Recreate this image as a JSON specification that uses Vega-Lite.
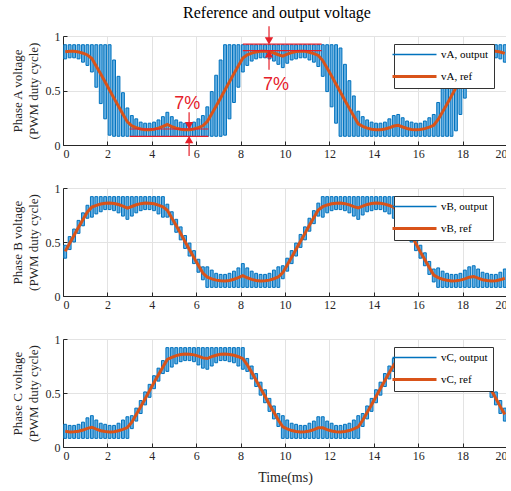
{
"$schema": "https://vega.github.io/schema/vega-lite/v6.json",
"padding": {"left": 11, "top": 4, "right": -5, "bottom": 2},
"bounds": "flush",
"spacing": 43,
"title": {"text": "Reference and output voltage", "fontSize": 16, "font": "Liberation Serif", "fontWeight": "normal", "color": "#000000", "anchor": "middle", "frame": "group", "dx": -8, "offset": 5},
"config": {
  "font": "Liberation Serif",
  "view": {"stroke": null},
  "axis": {"labelFont": "Liberation Serif", "labelFontSize": 12, "labelColor": "#262626", "titleFont": "Liberation Serif", "titleFontWeight": "normal", "titleColor": "#262626", "domainColor": "#262626", "tickColor": "#262626", "gridColor": "#e3e3e3", "tickSize": -4, "labelPadding": 7},
  "axisX": {"titleFontSize": 14, "titlePadding": 9},
  "axisY": {"titleFontSize": 13, "titlePadding": 5, "titleLineHeight": 16},
  "legend": {"orient": "none", "legendX": 331, "legendY": 8, "padding": 5, "strokeColor": "#333333", "fillColor": "#ffffff", "symbolType": "M-2.2,0L2.2,0", "symbolSize": 400, "symbolStrokeWidth": 3, "symbolOffset": 10, "labelFont": "Liberation Serif", "labelFontSize": 11, "labelColor": "#000000", "rowPadding": 10, "labelOffset": 21, "title": null}
},
"datasets": {
"pwm": [
{"p":"A","t":0,"m":0.1,"e":0.2,"r":0.855,"lo":0.79,"hi":0.92},
{"p":"A","t":0.2,"m":0.3,"e":0.4,"r":0.860,"lo":0.80,"hi":0.92},
{"p":"A","t":0.4,"m":0.5,"e":0.6,"r":0.859,"lo":0.80,"hi":0.92},
{"p":"A","t":0.6,"m":0.7,"e":0.8,"r":0.854,"lo":0.79,"hi":0.92},
{"p":"A","t":0.8,"m":0.9,"e":1.0,"r":0.842,"lo":0.76,"hi":0.92},
{"p":"A","t":1.0,"m":1.1,"e":1.2,"r":0.826,"lo":0.73,"hi":0.92},
{"p":"A","t":1.2,"m":1.3,"e":1.4,"r":0.793,"lo":0.67,"hi":0.92},
{"p":"A","t":1.4,"m":1.5,"e":1.6,"r":0.723,"lo":0.53,"hi":0.92},
{"p":"A","t":1.6,"m":1.7,"e":1.8,"r":0.652,"lo":0.38,"hi":0.92},
{"p":"A","t":1.8,"m":1.9,"e":2.0,"r":0.578,"lo":0.24,"hi":0.92},
{"p":"A","t":2.0,"m":2.1,"e":2.2,"r":0.503,"lo":0.09,"hi":0.92},
{"p":"A","t":2.2,"m":2.3,"e":2.4,"r":0.428,"lo":0.08,"hi":0.78},
{"p":"A","t":2.4,"m":2.5,"e":2.6,"r":0.355,"lo":0.08,"hi":0.63},
{"p":"A","t":2.6,"m":2.7,"e":2.8,"r":0.282,"lo":0.08,"hi":0.48},
{"p":"A","t":2.8,"m":2.9,"e":3.0,"r":0.212,"lo":0.08,"hi":0.34},
{"p":"A","t":3.0,"m":3.1,"e":3.2,"r":0.175,"lo":0.08,"hi":0.27},
{"p":"A","t":3.2,"m":3.3,"e":3.4,"r":0.159,"lo":0.08,"hi":0.24},
{"p":"A","t":3.4,"m":3.5,"e":3.6,"r":0.147,"lo":0.08,"hi":0.21},
{"p":"A","t":3.6,"m":3.7,"e":3.8,"r":0.141,"lo":0.08,"hi":0.20},
{"p":"A","t":3.8,"m":3.9,"e":4.0,"r":0.140,"lo":0.08,"hi":0.20},
{"p":"A","t":4.0,"m":4.1,"e":4.2,"r":0.144,"lo":0.08,"hi":0.21},
{"p":"A","t":4.2,"m":4.3,"e":4.4,"r":0.155,"lo":0.08,"hi":0.23},
{"p":"A","t":4.4,"m":4.5,"e":4.6,"r":0.170,"lo":0.08,"hi":0.26},
{"p":"A","t":4.6,"m":4.7,"e":4.8,"r":0.188,"lo":0.08,"hi":0.30},
{"p":"A","t":4.8,"m":4.9,"e":5.0,"r":0.169,"lo":0.08,"hi":0.26},
{"p":"A","t":5.0,"m":5.1,"e":5.2,"r":0.154,"lo":0.08,"hi":0.23},
{"p":"A","t":5.2,"m":5.3,"e":5.4,"r":0.144,"lo":0.08,"hi":0.21},
{"p":"A","t":5.4,"m":5.5,"e":5.6,"r":0.140,"lo":0.08,"hi":0.20},
{"p":"A","t":5.6,"m":5.7,"e":5.8,"r":0.141,"lo":0.08,"hi":0.20},
{"p":"A","t":5.8,"m":5.9,"e":6.0,"r":0.147,"lo":0.08,"hi":0.21},
{"p":"A","t":6.0,"m":6.1,"e":6.2,"r":0.160,"lo":0.08,"hi":0.24},
{"p":"A","t":6.2,"m":6.3,"e":6.4,"r":0.176,"lo":0.08,"hi":0.27},
{"p":"A","t":6.4,"m":6.5,"e":6.6,"r":0.216,"lo":0.08,"hi":0.35},
{"p":"A","t":6.6,"m":6.7,"e":6.8,"r":0.286,"lo":0.08,"hi":0.49},
{"p":"A","t":6.8,"m":6.9,"e":7.0,"r":0.358,"lo":0.08,"hi":0.64},
{"p":"A","t":7.0,"m":7.1,"e":7.2,"r":0.432,"lo":0.08,"hi":0.78},
{"p":"A","t":7.2,"m":7.3,"e":7.4,"r":0.506,"lo":0.09,"hi":0.92},
{"p":"A","t":7.4,"m":7.5,"e":7.6,"r":0.580,"lo":0.24,"hi":0.92},
{"p":"A","t":7.6,"m":7.7,"e":7.8,"r":0.655,"lo":0.39,"hi":0.92},
{"p":"A","t":7.8,"m":7.9,"e":8.0,"r":0.727,"lo":0.53,"hi":0.92},
{"p":"A","t":8.0,"m":8.1,"e":8.2,"r":0.797,"lo":0.67,"hi":0.92},
{"p":"A","t":8.2,"m":8.3,"e":8.4,"r":0.827,"lo":0.73,"hi":0.92},
{"p":"A","t":8.4,"m":8.5,"e":8.6,"r":0.843,"lo":0.77,"hi":0.92},
{"p":"A","t":8.6,"m":8.7,"e":8.8,"r":0.854,"lo":0.79,"hi":0.92},
{"p":"A","t":8.8,"m":8.9,"e":9.0,"r":0.859,"lo":0.80,"hi":0.92},
{"p":"A","t":9.0,"m":9.1,"e":9.2,"r":0.860,"lo":0.80,"hi":0.92},
{"p":"A","t":9.2,"m":9.3,"e":9.4,"r":0.855,"lo":0.79,"hi":0.92},
{"p":"A","t":9.4,"m":9.5,"e":9.6,"r":0.844,"lo":0.77,"hi":0.92},
{"p":"A","t":9.6,"m":9.7,"e":9.8,"r":0.828,"lo":0.74,"hi":0.92},
{"p":"A","t":9.8,"m":9.9,"e":10.0,"r":0.815,"lo":0.71,"hi":0.92},
{"p":"A","t":10.0,"m":10.1,"e":10.2,"r":0.833,"lo":0.75,"hi":0.92},
{"p":"A","t":10.2,"m":10.3,"e":10.4,"r":0.848,"lo":0.78,"hi":0.92},
{"p":"A","t":10.4,"m":10.5,"e":10.6,"r":0.857,"lo":0.79,"hi":0.92},
{"p":"A","t":10.6,"m":10.7,"e":10.8,"r":0.860,"lo":0.80,"hi":0.92},
{"p":"A","t":10.8,"m":10.9,"e":11.0,"r":0.859,"lo":0.80,"hi":0.92},
{"p":"A","t":11.0,"m":11.1,"e":11.2,"r":0.851,"lo":0.78,"hi":0.92},
{"p":"A","t":11.2,"m":11.3,"e":11.4,"r":0.838,"lo":0.76,"hi":0.92},
{"p":"A","t":11.4,"m":11.5,"e":11.6,"r":0.822,"lo":0.72,"hi":0.92},
{"p":"A","t":11.6,"m":11.7,"e":11.8,"r":0.775,"lo":0.63,"hi":0.92},
{"p":"A","t":11.8,"m":11.9,"e":12.0,"r":0.705,"lo":0.49,"hi":0.92},
{"p":"A","t":12.0,"m":12.1,"e":12.2,"r":0.633,"lo":0.35,"hi":0.92},
{"p":"A","t":12.2,"m":12.3,"e":12.4,"r":0.558,"lo":0.20,"hi":0.92},
{"p":"A","t":12.4,"m":12.5,"e":12.6,"r":0.484,"lo":0.08,"hi":0.89},
{"p":"A","t":12.6,"m":12.7,"e":12.8,"r":0.408,"lo":0.08,"hi":0.74},
{"p":"A","t":12.8,"m":12.9,"e":13.0,"r":0.336,"lo":0.08,"hi":0.59},
{"p":"A","t":13.0,"m":13.1,"e":13.2,"r":0.264,"lo":0.08,"hi":0.45},
{"p":"A","t":13.2,"m":13.3,"e":13.4,"r":0.194,"lo":0.08,"hi":0.31},
{"p":"A","t":13.4,"m":13.5,"e":13.6,"r":0.171,"lo":0.08,"hi":0.26},
{"p":"A","t":13.6,"m":13.7,"e":13.8,"r":0.155,"lo":0.08,"hi":0.23},
{"p":"A","t":13.8,"m":13.9,"e":14.0,"r":0.145,"lo":0.08,"hi":0.21},
{"p":"A","t":14.0,"m":14.1,"e":14.2,"r":0.140,"lo":0.08,"hi":0.20},
{"p":"A","t":14.2,"m":14.3,"e":14.4,"r":0.141,"lo":0.08,"hi":0.20},
{"p":"A","t":14.4,"m":14.5,"e":14.6,"r":0.147,"lo":0.08,"hi":0.21},
{"p":"A","t":14.6,"m":14.7,"e":14.8,"r":0.158,"lo":0.08,"hi":0.24},
{"p":"A","t":14.8,"m":14.9,"e":15.0,"r":0.174,"lo":0.08,"hi":0.27},
{"p":"A","t":15.0,"m":15.1,"e":15.2,"r":0.181,"lo":0.08,"hi":0.28},
{"p":"A","t":15.2,"m":15.3,"e":15.4,"r":0.165,"lo":0.08,"hi":0.25},
{"p":"A","t":15.4,"m":15.5,"e":15.6,"r":0.151,"lo":0.08,"hi":0.22},
{"p":"A","t":15.6,"m":15.7,"e":15.8,"r":0.143,"lo":0.08,"hi":0.21},
{"p":"A","t":15.8,"m":15.9,"e":16.0,"r":0.140,"lo":0.08,"hi":0.20},
{"p":"A","t":16.0,"m":16.1,"e":16.2,"r":0.142,"lo":0.08,"hi":0.20},
{"p":"A","t":16.2,"m":16.3,"e":16.4,"r":0.150,"lo":0.08,"hi":0.22},
{"p":"A","t":16.4,"m":16.5,"e":16.6,"r":0.164,"lo":0.08,"hi":0.25},
{"p":"A","t":16.6,"m":16.7,"e":16.8,"r":0.181,"lo":0.08,"hi":0.28},
{"p":"A","t":16.8,"m":16.9,"e":17.0,"r":0.234,"lo":0.08,"hi":0.39},
{"p":"A","t":17.0,"m":17.1,"e":17.2,"r":0.304,"lo":0.08,"hi":0.53},
{"p":"A","t":17.2,"m":17.3,"e":17.4,"r":0.376,"lo":0.08,"hi":0.67},
{"p":"A","t":17.4,"m":17.5,"e":17.6,"r":0.451,"lo":0.08,"hi":0.82},
{"p":"A","t":17.6,"m":17.7,"e":17.8,"r":0.526,"lo":0.13,"hi":0.92},
{"p":"A","t":17.8,"m":17.9,"e":18.0,"r":0.602,"lo":0.28,"hi":0.92},
{"p":"A","t":18.0,"m":18.1,"e":18.2,"r":0.674,"lo":0.43,"hi":0.92},
{"p":"A","t":18.2,"m":18.3,"e":18.4,"r":0.745,"lo":0.57,"hi":0.92},
{"p":"A","t":18.4,"m":18.5,"e":18.6,"r":0.812,"lo":0.70,"hi":0.92},
{"p":"A","t":18.6,"m":18.7,"e":18.8,"r":0.831,"lo":0.74,"hi":0.92},
{"p":"A","t":18.8,"m":18.9,"e":19.0,"r":0.847,"lo":0.77,"hi":0.92},
{"p":"A","t":19.0,"m":19.1,"e":19.2,"r":0.856,"lo":0.79,"hi":0.92},
{"p":"A","t":19.2,"m":19.3,"e":19.4,"r":0.860,"lo":0.80,"hi":0.92},
{"p":"A","t":19.4,"m":19.5,"e":19.6,"r":0.859,"lo":0.80,"hi":0.92},
{"p":"A","t":19.6,"m":19.7,"e":19.8,"r":0.853,"lo":0.79,"hi":0.92},
{"p":"A","t":19.8,"m":19.9,"e":20.0,"r":0.840,"lo":0.76,"hi":0.92},
{"p":"B","t":0,"m":0.1,"e":0.2,"r":0.413,"lo":0.35,"hi":0.47},
{"p":"B","t":0.2,"m":0.3,"e":0.4,"r":0.488,"lo":0.43,"hi":0.55},
{"p":"B","t":0.4,"m":0.5,"e":0.6,"r":0.562,"lo":0.50,"hi":0.62},
{"p":"B","t":0.6,"m":0.7,"e":0.8,"r":0.637,"lo":0.58,"hi":0.70},
{"p":"B","t":0.8,"m":0.9,"e":1.0,"r":0.709,"lo":0.65,"hi":0.77},
{"p":"B","t":1.0,"m":1.1,"e":1.2,"r":0.779,"lo":0.72,"hi":0.84},
{"p":"B","t":1.2,"m":1.3,"e":1.4,"r":0.823,"lo":0.73,"hi":0.92},
{"p":"B","t":1.4,"m":1.5,"e":1.6,"r":0.839,"lo":0.76,"hi":0.92},
{"p":"B","t":1.6,"m":1.7,"e":1.8,"r":0.852,"lo":0.78,"hi":0.92},
{"p":"B","t":1.8,"m":1.9,"e":2.0,"r":0.859,"lo":0.80,"hi":0.92},
{"p":"B","t":2.0,"m":2.1,"e":2.2,"r":0.860,"lo":0.80,"hi":0.92},
{"p":"B","t":2.2,"m":2.3,"e":2.4,"r":0.857,"lo":0.79,"hi":0.92},
{"p":"B","t":2.4,"m":2.5,"e":2.6,"r":0.847,"lo":0.77,"hi":0.92},
{"p":"B","t":2.6,"m":2.7,"e":2.8,"r":0.832,"lo":0.74,"hi":0.92},
{"p":"B","t":2.8,"m":2.9,"e":3.0,"r":0.814,"lo":0.71,"hi":0.92},
{"p":"B","t":3.0,"m":3.1,"e":3.2,"r":0.829,"lo":0.74,"hi":0.92},
{"p":"B","t":3.2,"m":3.3,"e":3.4,"r":0.845,"lo":0.77,"hi":0.92},
{"p":"B","t":3.4,"m":3.5,"e":3.6,"r":0.855,"lo":0.79,"hi":0.92},
{"p":"B","t":3.6,"m":3.7,"e":3.8,"r":0.860,"lo":0.80,"hi":0.92},
{"p":"B","t":3.8,"m":3.9,"e":4.0,"r":0.859,"lo":0.80,"hi":0.92},
{"p":"B","t":4.0,"m":4.1,"e":4.2,"r":0.854,"lo":0.79,"hi":0.92},
{"p":"B","t":4.2,"m":4.3,"e":4.4,"r":0.842,"lo":0.76,"hi":0.92},
{"p":"B","t":4.4,"m":4.5,"e":4.6,"r":0.826,"lo":0.73,"hi":0.92},
{"p":"B","t":4.6,"m":4.7,"e":4.8,"r":0.793,"lo":0.73,"hi":0.85},
{"p":"B","t":4.8,"m":4.9,"e":5.0,"r":0.723,"lo":0.66,"hi":0.78},
{"p":"B","t":5.0,"m":5.1,"e":5.2,"r":0.652,"lo":0.59,"hi":0.71},
{"p":"B","t":5.2,"m":5.3,"e":5.4,"r":0.578,"lo":0.52,"hi":0.64},
{"p":"B","t":5.4,"m":5.5,"e":5.6,"r":0.503,"lo":0.44,"hi":0.56},
{"p":"B","t":5.6,"m":5.7,"e":5.8,"r":0.428,"lo":0.37,"hi":0.49},
{"p":"B","t":5.8,"m":5.9,"e":6.0,"r":0.355,"lo":0.30,"hi":0.42},
{"p":"B","t":6.0,"m":6.1,"e":6.2,"r":0.282,"lo":0.22,"hi":0.34},
{"p":"B","t":6.2,"m":6.3,"e":6.4,"r":0.212,"lo":0.15,"hi":0.27},
{"p":"B","t":6.4,"m":6.5,"e":6.6,"r":0.175,"lo":0.08,"hi":0.27},
{"p":"B","t":6.6,"m":6.7,"e":6.8,"r":0.159,"lo":0.08,"hi":0.24},
{"p":"B","t":6.8,"m":6.9,"e":7.0,"r":0.147,"lo":0.08,"hi":0.21},
{"p":"B","t":7.0,"m":7.1,"e":7.2,"r":0.141,"lo":0.08,"hi":0.20},
{"p":"B","t":7.2,"m":7.3,"e":7.4,"r":0.140,"lo":0.08,"hi":0.20},
{"p":"B","t":7.4,"m":7.5,"e":7.6,"r":0.144,"lo":0.08,"hi":0.21},
{"p":"B","t":7.6,"m":7.7,"e":7.8,"r":0.155,"lo":0.08,"hi":0.23},
{"p":"B","t":7.8,"m":7.9,"e":8.0,"r":0.170,"lo":0.08,"hi":0.26},
{"p":"B","t":8.0,"m":8.1,"e":8.2,"r":0.188,"lo":0.08,"hi":0.30},
{"p":"B","t":8.2,"m":8.3,"e":8.4,"r":0.169,"lo":0.08,"hi":0.26},
{"p":"B","t":8.4,"m":8.5,"e":8.6,"r":0.154,"lo":0.08,"hi":0.23},
{"p":"B","t":8.6,"m":8.7,"e":8.8,"r":0.144,"lo":0.08,"hi":0.21},
{"p":"B","t":8.8,"m":8.9,"e":9.0,"r":0.140,"lo":0.08,"hi":0.20},
{"p":"B","t":9.0,"m":9.1,"e":9.2,"r":0.141,"lo":0.08,"hi":0.20},
{"p":"B","t":9.2,"m":9.3,"e":9.4,"r":0.147,"lo":0.08,"hi":0.21},
{"p":"B","t":9.4,"m":9.5,"e":9.6,"r":0.160,"lo":0.08,"hi":0.24},
{"p":"B","t":9.6,"m":9.7,"e":9.8,"r":0.176,"lo":0.08,"hi":0.27},
{"p":"B","t":9.8,"m":9.9,"e":10.0,"r":0.216,"lo":0.16,"hi":0.28},
{"p":"B","t":10.0,"m":10.1,"e":10.2,"r":0.286,"lo":0.23,"hi":0.35},
{"p":"B","t":10.2,"m":10.3,"e":10.4,"r":0.358,"lo":0.30,"hi":0.42},
{"p":"B","t":10.4,"m":10.5,"e":10.6,"r":0.432,"lo":0.37,"hi":0.49},
{"p":"B","t":10.6,"m":10.7,"e":10.8,"r":0.506,"lo":0.45,"hi":0.57},
{"p":"B","t":10.8,"m":10.9,"e":11.0,"r":0.580,"lo":0.52,"hi":0.64},
{"p":"B","t":11.0,"m":11.1,"e":11.2,"r":0.655,"lo":0.60,"hi":0.72},
{"p":"B","t":11.2,"m":11.3,"e":11.4,"r":0.727,"lo":0.67,"hi":0.79},
{"p":"B","t":11.4,"m":11.5,"e":11.6,"r":0.797,"lo":0.74,"hi":0.86},
{"p":"B","t":11.6,"m":11.7,"e":11.8,"r":0.827,"lo":0.73,"hi":0.92},
{"p":"B","t":11.8,"m":11.9,"e":12.0,"r":0.843,"lo":0.77,"hi":0.92},
{"p":"B","t":12.0,"m":12.1,"e":12.2,"r":0.854,"lo":0.79,"hi":0.92},
{"p":"B","t":12.2,"m":12.3,"e":12.4,"r":0.859,"lo":0.80,"hi":0.92},
{"p":"B","t":12.4,"m":12.5,"e":12.6,"r":0.860,"lo":0.80,"hi":0.92},
{"p":"B","t":12.6,"m":12.7,"e":12.8,"r":0.855,"lo":0.79,"hi":0.92},
{"p":"B","t":12.8,"m":12.9,"e":13.0,"r":0.844,"lo":0.77,"hi":0.92},
{"p":"B","t":13.0,"m":13.1,"e":13.2,"r":0.828,"lo":0.74,"hi":0.92},
{"p":"B","t":13.2,"m":13.3,"e":13.4,"r":0.815,"lo":0.71,"hi":0.92},
{"p":"B","t":13.4,"m":13.5,"e":13.6,"r":0.833,"lo":0.75,"hi":0.92},
{"p":"B","t":13.6,"m":13.7,"e":13.8,"r":0.848,"lo":0.78,"hi":0.92},
{"p":"B","t":13.8,"m":13.9,"e":14.0,"r":0.857,"lo":0.79,"hi":0.92},
{"p":"B","t":14.0,"m":14.1,"e":14.2,"r":0.860,"lo":0.80,"hi":0.92},
{"p":"B","t":14.2,"m":14.3,"e":14.4,"r":0.859,"lo":0.80,"hi":0.92},
{"p":"B","t":14.4,"m":14.5,"e":14.6,"r":0.851,"lo":0.78,"hi":0.92},
{"p":"B","t":14.6,"m":14.7,"e":14.8,"r":0.838,"lo":0.76,"hi":0.92},
{"p":"B","t":14.8,"m":14.9,"e":15.0,"r":0.822,"lo":0.72,"hi":0.92},
{"p":"B","t":15.0,"m":15.1,"e":15.2,"r":0.775,"lo":0.72,"hi":0.84},
{"p":"B","t":15.2,"m":15.3,"e":15.4,"r":0.705,"lo":0.65,"hi":0.77},
{"p":"B","t":15.4,"m":15.5,"e":15.6,"r":0.633,"lo":0.57,"hi":0.69},
{"p":"B","t":15.6,"m":15.7,"e":15.8,"r":0.558,"lo":0.50,"hi":0.62},
{"p":"B","t":15.8,"m":15.9,"e":16.0,"r":0.484,"lo":0.42,"hi":0.54},
{"p":"B","t":16.0,"m":16.1,"e":16.2,"r":0.408,"lo":0.35,"hi":0.47},
{"p":"B","t":16.2,"m":16.3,"e":16.4,"r":0.336,"lo":0.28,"hi":0.40},
{"p":"B","t":16.4,"m":16.5,"e":16.6,"r":0.264,"lo":0.20,"hi":0.32},
{"p":"B","t":16.6,"m":16.7,"e":16.8,"r":0.194,"lo":0.13,"hi":0.25},
{"p":"B","t":16.8,"m":16.9,"e":17.0,"r":0.171,"lo":0.08,"hi":0.26},
{"p":"B","t":17.0,"m":17.1,"e":17.2,"r":0.155,"lo":0.08,"hi":0.23},
{"p":"B","t":17.2,"m":17.3,"e":17.4,"r":0.145,"lo":0.08,"hi":0.21},
{"p":"B","t":17.4,"m":17.5,"e":17.6,"r":0.140,"lo":0.08,"hi":0.20},
{"p":"B","t":17.6,"m":17.7,"e":17.8,"r":0.141,"lo":0.08,"hi":0.20},
{"p":"B","t":17.8,"m":17.9,"e":18.0,"r":0.147,"lo":0.08,"hi":0.21},
{"p":"B","t":18.0,"m":18.1,"e":18.2,"r":0.158,"lo":0.08,"hi":0.24},
{"p":"B","t":18.2,"m":18.3,"e":18.4,"r":0.174,"lo":0.08,"hi":0.27},
{"p":"B","t":18.4,"m":18.5,"e":18.6,"r":0.181,"lo":0.08,"hi":0.28},
{"p":"B","t":18.6,"m":18.7,"e":18.8,"r":0.165,"lo":0.08,"hi":0.25},
{"p":"B","t":18.8,"m":18.9,"e":19.0,"r":0.151,"lo":0.08,"hi":0.22},
{"p":"B","t":19.0,"m":19.1,"e":19.2,"r":0.143,"lo":0.08,"hi":0.21},
{"p":"B","t":19.2,"m":19.3,"e":19.4,"r":0.140,"lo":0.08,"hi":0.20},
{"p":"B","t":19.4,"m":19.5,"e":19.6,"r":0.142,"lo":0.08,"hi":0.20},
{"p":"B","t":19.6,"m":19.7,"e":19.8,"r":0.150,"lo":0.08,"hi":0.22},
{"p":"B","t":19.8,"m":19.9,"e":20.0,"r":0.164,"lo":0.08,"hi":0.25},
{"p":"C","t":0,"m":0.1,"e":0.2,"r":0.145,"lo":0.08,"hi":0.21},
{"p":"C","t":0.2,"m":0.3,"e":0.4,"r":0.140,"lo":0.08,"hi":0.20},
{"p":"C","t":0.4,"m":0.5,"e":0.6,"r":0.141,"lo":0.08,"hi":0.20},
{"p":"C","t":0.6,"m":0.7,"e":0.8,"r":0.146,"lo":0.08,"hi":0.21},
{"p":"C","t":0.8,"m":0.9,"e":1.0,"r":0.157,"lo":0.08,"hi":0.23},
{"p":"C","t":1.0,"m":1.1,"e":1.2,"r":0.173,"lo":0.08,"hi":0.27},
{"p":"C","t":1.2,"m":1.3,"e":1.4,"r":0.183,"lo":0.08,"hi":0.29},
{"p":"C","t":1.4,"m":1.5,"e":1.6,"r":0.166,"lo":0.08,"hi":0.25},
{"p":"C","t":1.6,"m":1.7,"e":1.8,"r":0.151,"lo":0.08,"hi":0.22},
{"p":"C","t":1.8,"m":1.9,"e":2.0,"r":0.143,"lo":0.08,"hi":0.21},
{"p":"C","t":2.0,"m":2.1,"e":2.2,"r":0.140,"lo":0.08,"hi":0.20},
{"p":"C","t":2.2,"m":2.3,"e":2.4,"r":0.142,"lo":0.08,"hi":0.20},
{"p":"C","t":2.4,"m":2.5,"e":2.6,"r":0.150,"lo":0.08,"hi":0.22},
{"p":"C","t":2.6,"m":2.7,"e":2.8,"r":0.163,"lo":0.08,"hi":0.25},
{"p":"C","t":2.8,"m":2.9,"e":3.0,"r":0.180,"lo":0.08,"hi":0.28},
{"p":"C","t":3.0,"m":3.1,"e":3.2,"r":0.230,"lo":0.17,"hi":0.29},
{"p":"C","t":3.2,"m":3.3,"e":3.4,"r":0.300,"lo":0.24,"hi":0.36},
{"p":"C","t":3.4,"m":3.5,"e":3.6,"r":0.372,"lo":0.31,"hi":0.43},
{"p":"C","t":3.6,"m":3.7,"e":3.8,"r":0.447,"lo":0.39,"hi":0.51},
{"p":"C","t":3.8,"m":3.9,"e":4.0,"r":0.522,"lo":0.46,"hi":0.58},
{"p":"C","t":4.0,"m":4.1,"e":4.2,"r":0.597,"lo":0.54,"hi":0.66},
{"p":"C","t":4.2,"m":4.3,"e":4.4,"r":0.670,"lo":0.61,"hi":0.73},
{"p":"C","t":4.4,"m":4.5,"e":4.6,"r":0.741,"lo":0.68,"hi":0.80},
{"p":"C","t":4.6,"m":4.7,"e":4.8,"r":0.811,"lo":0.70,"hi":0.92},
{"p":"C","t":4.8,"m":4.9,"e":5.0,"r":0.830,"lo":0.74,"hi":0.92},
{"p":"C","t":5.0,"m":5.1,"e":5.2,"r":0.846,"lo":0.77,"hi":0.92},
{"p":"C","t":5.2,"m":5.3,"e":5.4,"r":0.856,"lo":0.79,"hi":0.92},
{"p":"C","t":5.4,"m":5.5,"e":5.6,"r":0.860,"lo":0.80,"hi":0.92},
{"p":"C","t":5.6,"m":5.7,"e":5.8,"r":0.859,"lo":0.80,"hi":0.92},
{"p":"C","t":5.8,"m":5.9,"e":6.0,"r":0.853,"lo":0.79,"hi":0.92},
{"p":"C","t":6.0,"m":6.1,"e":6.2,"r":0.841,"lo":0.76,"hi":0.92},
{"p":"C","t":6.2,"m":6.3,"e":6.4,"r":0.825,"lo":0.73,"hi":0.92},
{"p":"C","t":6.4,"m":6.5,"e":6.6,"r":0.819,"lo":0.72,"hi":0.92},
{"p":"C","t":6.6,"m":6.7,"e":6.8,"r":0.837,"lo":0.75,"hi":0.92},
{"p":"C","t":6.8,"m":6.9,"e":7.0,"r":0.850,"lo":0.78,"hi":0.92},
{"p":"C","t":7.0,"m":7.1,"e":7.2,"r":0.858,"lo":0.80,"hi":0.92},
{"p":"C","t":7.2,"m":7.3,"e":7.4,"r":0.860,"lo":0.80,"hi":0.92},
{"p":"C","t":7.4,"m":7.5,"e":7.6,"r":0.857,"lo":0.79,"hi":0.92},
{"p":"C","t":7.6,"m":7.7,"e":7.8,"r":0.849,"lo":0.78,"hi":0.92},
{"p":"C","t":7.8,"m":7.9,"e":8.0,"r":0.836,"lo":0.75,"hi":0.92},
{"p":"C","t":8.0,"m":8.1,"e":8.2,"r":0.818,"lo":0.72,"hi":0.92},
{"p":"C","t":8.2,"m":8.3,"e":8.4,"r":0.761,"lo":0.70,"hi":0.82},
{"p":"C","t":8.4,"m":8.5,"e":8.6,"r":0.691,"lo":0.63,"hi":0.75},
{"p":"C","t":8.6,"m":8.7,"e":8.8,"r":0.618,"lo":0.56,"hi":0.68},
{"p":"C","t":8.8,"m":8.9,"e":9.0,"r":0.543,"lo":0.48,"hi":0.60},
{"p":"C","t":9.0,"m":9.1,"e":9.2,"r":0.469,"lo":0.41,"hi":0.53},
{"p":"C","t":9.2,"m":9.3,"e":9.4,"r":0.393,"lo":0.33,"hi":0.45},
{"p":"C","t":9.4,"m":9.5,"e":9.6,"r":0.321,"lo":0.26,"hi":0.38},
{"p":"C","t":9.6,"m":9.7,"e":9.8,"r":0.250,"lo":0.19,"hi":0.31},
{"p":"C","t":9.8,"m":9.9,"e":10.0,"r":0.186,"lo":0.08,"hi":0.29},
{"p":"C","t":10.0,"m":10.1,"e":10.2,"r":0.167,"lo":0.08,"hi":0.25},
{"p":"C","t":10.2,"m":10.3,"e":10.4,"r":0.152,"lo":0.08,"hi":0.22},
{"p":"C","t":10.4,"m":10.5,"e":10.6,"r":0.143,"lo":0.08,"hi":0.21},
{"p":"C","t":10.6,"m":10.7,"e":10.8,"r":0.140,"lo":0.08,"hi":0.20},
{"p":"C","t":10.8,"m":10.9,"e":11.0,"r":0.141,"lo":0.08,"hi":0.20},
{"p":"C","t":11.0,"m":11.1,"e":11.2,"r":0.148,"lo":0.08,"hi":0.22},
{"p":"C","t":11.2,"m":11.3,"e":11.4,"r":0.161,"lo":0.08,"hi":0.24},
{"p":"C","t":11.4,"m":11.5,"e":11.6,"r":0.178,"lo":0.08,"hi":0.28},
{"p":"C","t":11.6,"m":11.7,"e":11.8,"r":0.178,"lo":0.08,"hi":0.28},
{"p":"C","t":11.8,"m":11.9,"e":12.0,"r":0.161,"lo":0.08,"hi":0.24},
{"p":"C","t":12.0,"m":12.1,"e":12.2,"r":0.148,"lo":0.08,"hi":0.22},
{"p":"C","t":12.2,"m":12.3,"e":12.4,"r":0.141,"lo":0.08,"hi":0.20},
{"p":"C","t":12.4,"m":12.5,"e":12.6,"r":0.140,"lo":0.08,"hi":0.20},
{"p":"C","t":12.6,"m":12.7,"e":12.8,"r":0.143,"lo":0.08,"hi":0.21},
{"p":"C","t":12.8,"m":12.9,"e":13.0,"r":0.152,"lo":0.08,"hi":0.22},
{"p":"C","t":13.0,"m":13.1,"e":13.2,"r":0.167,"lo":0.08,"hi":0.25},
{"p":"C","t":13.2,"m":13.3,"e":13.4,"r":0.186,"lo":0.08,"hi":0.29},
{"p":"C","t":13.4,"m":13.5,"e":13.6,"r":0.248,"lo":0.19,"hi":0.31},
{"p":"C","t":13.6,"m":13.7,"e":13.8,"r":0.319,"lo":0.26,"hi":0.38},
{"p":"C","t":13.8,"m":13.9,"e":14.0,"r":0.391,"lo":0.33,"hi":0.45},
{"p":"C","t":14.0,"m":14.1,"e":14.2,"r":0.467,"lo":0.41,"hi":0.53},
{"p":"C","t":14.2,"m":14.3,"e":14.4,"r":0.541,"lo":0.48,"hi":0.60},
{"p":"C","t":14.4,"m":14.5,"e":14.6,"r":0.616,"lo":0.56,"hi":0.68},
{"p":"C","t":14.6,"m":14.7,"e":14.8,"r":0.689,"lo":0.63,"hi":0.75},
{"p":"C","t":14.8,"m":14.9,"e":15.0,"r":0.759,"lo":0.70,"hi":0.82},
{"p":"C","t":15.0,"m":15.1,"e":15.2,"r":0.818,"lo":0.72,"hi":0.92},
{"p":"C","t":15.2,"m":15.3,"e":15.4,"r":0.835,"lo":0.75,"hi":0.92},
{"p":"C","t":15.4,"m":15.5,"e":15.6,"r":0.849,"lo":0.78,"hi":0.92},
{"p":"C","t":15.6,"m":15.7,"e":15.8,"r":0.857,"lo":0.79,"hi":0.92},
{"p":"C","t":15.8,"m":15.9,"e":16.0,"r":0.860,"lo":0.80,"hi":0.92},
{"p":"C","t":16.0,"m":16.1,"e":16.2,"r":0.858,"lo":0.80,"hi":0.92},
{"p":"C","t":16.2,"m":16.3,"e":16.4,"r":0.851,"lo":0.78,"hi":0.92},
{"p":"C","t":16.4,"m":16.5,"e":16.6,"r":0.837,"lo":0.75,"hi":0.92},
{"p":"C","t":16.6,"m":16.7,"e":16.8,"r":0.819,"lo":0.72,"hi":0.92},
{"p":"C","t":16.8,"m":16.9,"e":17.0,"r":0.824,"lo":0.73,"hi":0.92},
{"p":"C","t":17.0,"m":17.1,"e":17.2,"r":0.841,"lo":0.76,"hi":0.92},
{"p":"C","t":17.2,"m":17.3,"e":17.4,"r":0.853,"lo":0.79,"hi":0.92},
{"p":"C","t":17.4,"m":17.5,"e":17.6,"r":0.859,"lo":0.80,"hi":0.92},
{"p":"C","t":17.6,"m":17.7,"e":17.8,"r":0.860,"lo":0.80,"hi":0.92},
{"p":"C","t":17.8,"m":17.9,"e":18.0,"r":0.856,"lo":0.79,"hi":0.92},
{"p":"C","t":18.0,"m":18.1,"e":18.2,"r":0.846,"lo":0.77,"hi":0.92},
{"p":"C","t":18.2,"m":18.3,"e":18.4,"r":0.831,"lo":0.74,"hi":0.92},
{"p":"C","t":18.4,"m":18.5,"e":18.6,"r":0.812,"lo":0.70,"hi":0.92},
{"p":"C","t":18.6,"m":18.7,"e":18.8,"r":0.743,"lo":0.68,"hi":0.80},
{"p":"C","t":18.8,"m":18.9,"e":19.0,"r":0.671,"lo":0.61,"hi":0.73},
{"p":"C","t":19.0,"m":19.1,"e":19.2,"r":0.599,"lo":0.54,"hi":0.66},
{"p":"C","t":19.2,"m":19.3,"e":19.4,"r":0.523,"lo":0.46,"hi":0.58},
{"p":"C","t":19.4,"m":19.5,"e":19.6,"r":0.449,"lo":0.39,"hi":0.51},
{"p":"C","t":19.6,"m":19.7,"e":19.8,"r":0.374,"lo":0.31,"hi":0.43},
{"p":"C","t":19.8,"m":19.9,"e":20.0,"r":0.302,"lo":0.24,"hi":0.36}
]
},
"vconcat": [
{
 "width": 444, "height": 109,
 "layer": [
  {"data": {"name": "pwm"}, "transform": [{"filter": "datum.p === 'A'"}],
   "mark": {"type": "rect", "fill": "#62aee3", "stroke": "#0072BD", "strokeWidth": 1, "xOffset": 0.8, "x2Offset": -0.8},
   "encoding": {
    "x": {"field": "t", "type": "quantitative", "scale": {"domain": [0, 20], "nice": false}, "axis": {"values": [0,2,4,6,8,10,12,14,16,18,20], "title": null}},
    "x2": {"field": "e"},
    "y": {"field": "lo", "type": "quantitative", "scale": {"domain": [0, 1], "nice": false}, "axis": {"values": [0, 0.5, 1], "format": "~g", "title": ["Phase A voltage", "(PWM duty cycle)"]}},
    "y2": {"field": "hi"}}},
  {"data": {"name": "pwm"}, "transform": [{"filter": "datum.p === 'A'"}],
   "mark": {"type": "line", "strokeWidth": 3},
   "encoding": {
    "x": {"field": "m", "type": "quantitative"},
    "y": {"field": "r", "type": "quantitative"},
    "color": {"datum": "vA, ref", "type": "nominal", "scale": {"domain": ["vA, output", "vA, ref"], "range": ["#0072BD", "#D95319"]}, "legend": {"title": null, "encode": {"symbols": {"update": {"strokeWidth": {"signal": "datum.value === 'vA, output' ? 1.5 : 3"}}}}}}}},
  {"data": {"values": [{"x": 3.0, "x2": 6.55, "y": 0.147}, {"x": 3.0, "x2": 6.55, "y": 0.08}, {"x": 8.1, "x2": 11.65, "y": 0.925}, {"x": 8.1, "x2": 11.65, "y": 0.865}]},
   "mark": {"type": "rule", "color": "#E5202A", "strokeWidth": 1.2},
   "encoding": {"x": {"field": "x", "type": "quantitative"}, "x2": {"field": "x2"}, "y": {"field": "y", "type": "quantitative"}}},
  {"data": {"values": [{"x": 5.68, "y": 0.30, "y2": 0.17}, {"x": 5.68, "y": 0.06, "y2": -0.10}, {"x": 9.28, "y": 1.09, "y2": 0.95}, {"x": 9.28, "y": 0.84, "y2": 0.69}]},
   "mark": {"type": "rule", "color": "#E5202A", "strokeWidth": 1.2},
   "encoding": {"x": {"field": "x", "type": "quantitative"}, "y": {"field": "y", "type": "quantitative"}, "y2": {"field": "y2"}}},
  {"data": {"values": [{"x": 5.68, "y": 0.177}, {"x": 9.28, "y": 0.955}]},
   "mark": {"type": "point", "shape": "triangle-down", "filled": true, "color": "#E5202A", "size": 70, "opacity": 1},
   "encoding": {"x": {"field": "x", "type": "quantitative"}, "y": {"field": "y", "type": "quantitative"}}},
  {"data": {"values": [{"x": 5.68, "y": 0.05}, {"x": 9.28, "y": 0.835}]},
   "mark": {"type": "point", "shape": "triangle-up", "filled": true, "color": "#E5202A", "size": 70, "opacity": 1},
   "encoding": {"x": {"field": "x", "type": "quantitative"}, "y": {"field": "y", "type": "quantitative"}}},
  {"data": {"values": [{"x": 5.6, "y": 0.376, "label": "7%"}, {"x": 9.59, "y": 0.546, "label": "7%"}]},
   "mark": {"type": "text", "color": "#E5202A", "fontSize": 18, "font": "Liberation Sans", "baseline": "middle", "align": "center"},
   "encoding": {"x": {"field": "x", "type": "quantitative"}, "y": {"field": "y", "type": "quantitative"}, "text": {"field": "label"}}}
 ]
},
{
 "width": 444, "height": 108,
 "layer": [
  {"data": {"name": "pwm"}, "transform": [{"filter": "datum.p === 'B'"}],
   "mark": {"type": "rect", "fill": "#62aee3", "stroke": "#0072BD", "strokeWidth": 1, "xOffset": 0.8, "x2Offset": -0.8},
   "encoding": {
    "x": {"field": "t", "type": "quantitative", "scale": {"domain": [0, 20], "nice": false}, "axis": {"values": [0,2,4,6,8,10,12,14,16,18,20], "title": null}},
    "x2": {"field": "e"},
    "y": {"field": "lo", "type": "quantitative", "scale": {"domain": [0, 1], "nice": false}, "axis": {"values": [0, 0.5, 1], "format": "~g", "title": ["Phase B voltage", "(PWM duty cycle)"]}},
    "y2": {"field": "hi"}}},
  {"data": {"name": "pwm"}, "transform": [{"filter": "datum.p === 'B'"}],
   "mark": {"type": "line", "strokeWidth": 3},
   "encoding": {
    "x": {"field": "m", "type": "quantitative"},
    "y": {"field": "r", "type": "quantitative"},
    "color": {"datum": "vB, ref", "type": "nominal", "scale": {"domain": ["vB, output", "vB, ref"], "range": ["#0072BD", "#D95319"]}, "legend": {"title": null, "encode": {"symbols": {"update": {"strokeWidth": {"signal": "datum.value === 'vB, output' ? 1.5 : 3"}}}}}}}}
 ]
},
{
 "width": 444, "height": 108,
 "layer": [
  {"data": {"name": "pwm"}, "transform": [{"filter": "datum.p === 'C'"}],
   "mark": {"type": "rect", "fill": "#62aee3", "stroke": "#0072BD", "strokeWidth": 1, "xOffset": 0.8, "x2Offset": -0.8},
   "encoding": {
    "x": {"field": "t", "type": "quantitative", "scale": {"domain": [0, 20], "nice": false}, "axis": {"values": [0,2,4,6,8,10,12,14,16,18,20], "title": "Time(ms)"}},
    "x2": {"field": "e"},
    "y": {"field": "lo", "type": "quantitative", "scale": {"domain": [0, 1], "nice": false}, "axis": {"values": [0, 0.5, 1], "format": "~g", "title": ["Phase C voltage", "(PWM duty cycle)"]}},
    "y2": {"field": "hi"}}},
  {"data": {"name": "pwm"}, "transform": [{"filter": "datum.p === 'C'"}],
   "mark": {"type": "line", "strokeWidth": 3},
   "encoding": {
    "x": {"field": "m", "type": "quantitative"},
    "y": {"field": "r", "type": "quantitative"},
    "color": {"datum": "vC, ref", "type": "nominal", "scale": {"domain": ["vC, output", "vC, ref"], "range": ["#0072BD", "#D95319"]}, "legend": {"title": null, "encode": {"symbols": {"update": {"strokeWidth": {"signal": "datum.value === 'vC, output' ? 1.5 : 3"}}}}}}}}
 ]
}
],
"resolve": {"scale": {"color": "independent"}, "legend": {"color": "independent"}}
}
